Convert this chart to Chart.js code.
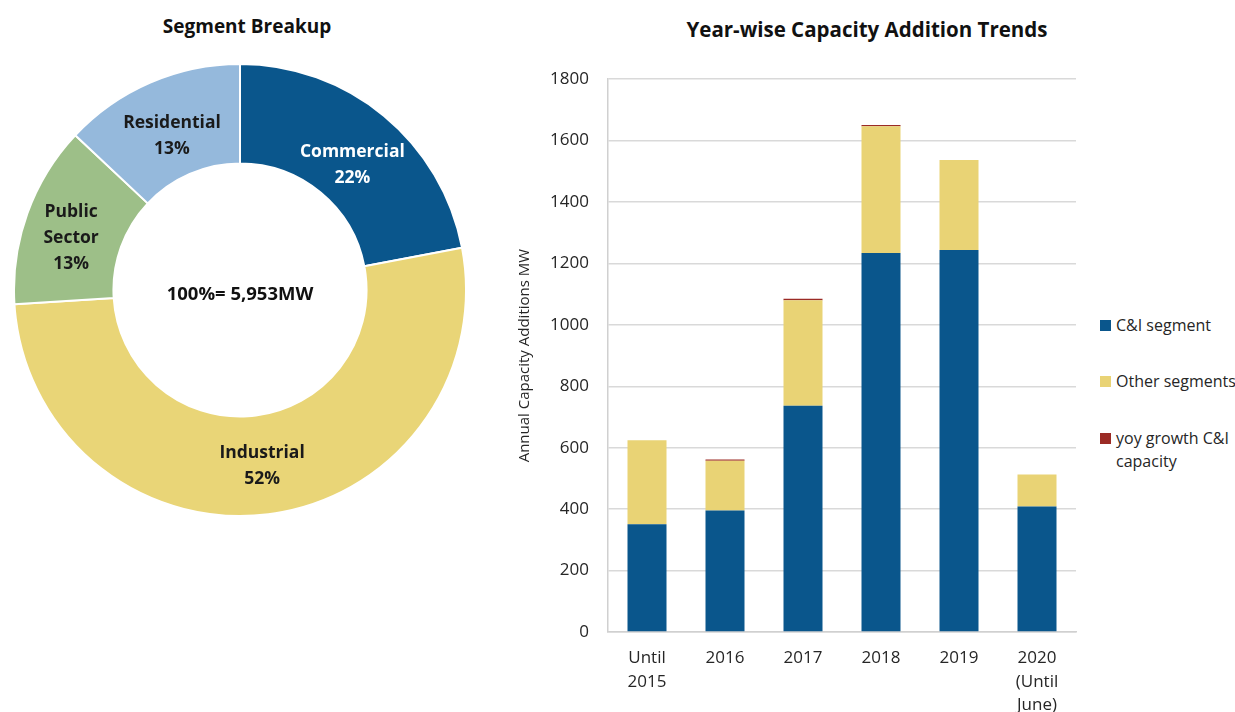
<!DOCTYPE html>
<html>
<head>
<meta charset="utf-8">
<script src="https://cdn.jsdelivr.net/npm/chart.js@4.4.1/dist/chart.umd.min.js"></script>
<style>
  html, body { margin: 0; padding: 0; background: #ffffff; }
  body { width: 1235px; height: 712px; position: relative; overflow: hidden; font-family: "Open Sans", sans-serif; }
  .title { position: absolute; font-weight: bold; color: #111; text-align: center; white-space: nowrap; }
  #t1 { left: 147px; top: 13px; width: 200px; font-size: 19px; }
  #t2 { left: 667px; top: 15px; width: 400px; font-size: 20.5px; }
  #pieWrap { position: absolute; left: 13px; top: 63px; width: 454px; height: 454px; }
  #barWrap { position: absolute; left: 500px; top: 50px; width: 590px; height: 662px; }
  #legend { position: absolute; left: 1100px; top: 314px; font-size: 16px; color: #262626; }
  .li { position: absolute; left: 0; white-space: nowrap; line-height: 23px; }
  .sw { position: absolute; left: 0; top: 6px; width: 11px; height: 11px; }
  .lt { position: absolute; left: 16px; top: 0; }
</style>
</head>
<body>
<div class="title" id="t1">Segment Breakup</div>
<div class="title" id="t2">Year-wise Capacity Addition Trends</div>
<div id="pieWrap"><canvas id="pie"></canvas></div>
<div id="barWrap"><canvas id="bar"></canvas></div>
<div id="legend"></div>
<script>
// ---- Data ----
const segmentLabels = ["Commercial", "Industrial", "Public Sector", "Residential"];
const segmentShares = [22, 52, 13, 13];
const segmentLabelLines = [["Commercial", "22%"], ["Industrial", "52%"], ["Public", "Sector", "13%"], ["Residential", "13%"]];
const totalLabel = "100%= 5,953MW";

const years = [["Until", "2015"], "2016", "2017", "2018", "2019", ["2020", "(Until", "June)"]];
const ciSegment = [351, 396, 737, 1234, 1244, 409];
const otherSegments = [273, 162, 343, 413, 293, 104];
const yoyGrowthCI = [0, 4, 5, 4, 0, 0];
const seriesNames = ["C&I segment", "Other segments", "yoy growth C&I capacity"];
const yTicks = [0, 200, 400, 600, 800, 1000, 1200, 1400, 1600, 1800];

// ---- Styles ----
const BLUE = "#0A568C", YELLOW = "#E9D375", RED = "#9B2B25";
const pieColors = ["#0A568C", "#E9D577", "#9DBF88", "#95B9DC"];
const pieTextColors = ["#ffffff", "#1a1a1a", "#1a1a1a", "#1a1a1a"];
const labelNudge = [[0, 11], [0, 1], [-3, 8], [2, 8]];
const FONT = "'Open Sans', sans-serif";

// ---- Doughnut ----
const labelPlugin = {
  id: 'sliceLabels',
  afterDatasetsDraw(chart) {
    const ctx = chart.ctx;
    const meta = chart.getDatasetMeta(0);
    ctx.save();
    ctx.font = "bold 17.5px " + FONT;
    ctx.textAlign = "center";
    ctx.textBaseline = "middle";
    meta.data.forEach((arc, i) => {
      const p = arc.tooltipPosition();
      const lines = segmentLabelLines[i];
      const lh = 26;
      ctx.fillStyle = pieTextColors[i];
      lines.forEach((ln, k) => {
        ctx.fillText(ln, p.x + labelNudge[i][0], p.y + labelNudge[i][1] + (k - (lines.length - 1) / 2) * lh);
      });
    });
    const c = meta.data[0];
    ctx.font = "bold 18.5px " + FONT;
    ctx.fillStyle = "#111";
    ctx.fillText(totalLabel, c.x, c.y + 5);
    ctx.restore();
  }
};

new Chart(document.getElementById('pie'), {
  type: 'doughnut',
  data: {
    labels: segmentLabels,
    datasets: [{
      data: segmentShares,
      backgroundColor: pieColors,
      borderColor: "#ffffff",
      borderWidth: 2
    }]
  },
  options: {
    responsive: true,
    maintainAspectRatio: false,
    animation: false,
    cutout: "56%",
    layout: { padding: 0 },
    plugins: { legend: { display: false }, tooltip: { enabled: false } }
  },
  plugins: [labelPlugin]
});

// ---- Bar ----
const barColors = [BLUE, YELLOW, RED];
const barData = [ciSegment, otherSegments, yoyGrowthCI];
new Chart(document.getElementById('bar'), {
  type: 'bar',
  data: {
    labels: years,
    datasets: seriesNames.map((n, i) => ({
      label: n,
      data: barData[i],
      backgroundColor: barColors[i],
      borderWidth: 0,
      categoryPercentage: 1.0,
      barPercentage: 0.5
    }))
  },
  options: {
    responsive: true,
    maintainAspectRatio: false,
    animation: false,
    layout: { padding: { top: 7, right: 14, left: 0, bottom: 0 } },
    plugins: { legend: { display: false }, tooltip: { enabled: false } },
    scales: {
      x: {
        stacked: true,
        grid: { display: false, drawTicks: false },
        border: { display: true, color: "#d0d0d0", width: 1.5 },
        ticks: { color: "#262626", font: { family: FONT, size: 17, lineHeight: 1.4 }, padding: 14, maxRotation: 0, autoSkip: false },
        afterFit(s) { s.height = 80; }
      },
      y: {
        stacked: true,
        min: 0, max: 1800,
        afterBuildTicks(s) { s.ticks = yTicks.map(v => ({ value: v })); },
        grid: { color: "#d9d9d9", lineWidth: 1.5, drawTicks: false },
        border: { display: true, color: "#d0d0d0", width: 1.5 },
        ticks: { color: "#262626", font: { family: FONT, size: 17 }, padding: 19, callback: (v) => String(v) },
        title: { display: true, text: "Annual Capacity Additions MW", color: "#262626", font: { family: FONT, size: 15 }, padding: { top: 16, bottom: 0 } },
        afterFit(s) { s.width = 108; }
      }
    }
  }
});

// ---- Legend ----
const legendTops = [0, 56, 113];
const legendLines = [["C&I segment"], ["Other segments"], ["yoy growth C&I", "capacity"]];
const lg = document.getElementById('legend');
seriesNames.forEach((n, i) => {
  const d = document.createElement('div');
  d.className = 'li';
  d.style.top = legendTops[i] + 'px';
  d.innerHTML = '<span class="sw" style="background:' + barColors[i] + '"></span><span class="lt">' + legendLines[i].join('<br>') + '</span>';
  lg.appendChild(d);
});
</script>
</body>
</html>
